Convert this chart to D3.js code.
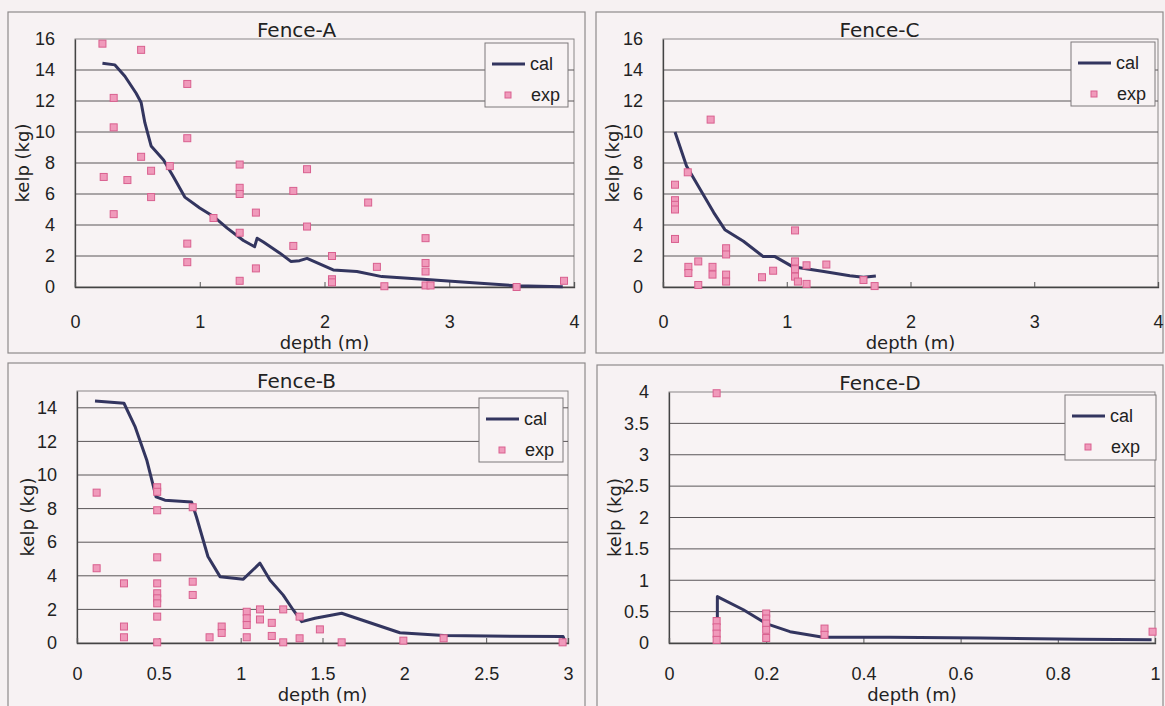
<!DOCTYPE html>
<meta charset="utf-8">
<style>
body { margin: 0; background: #f6f1f2; }
.tick text { font-family: "Liberation Sans", Arial, sans-serif; font-size: 18px; fill: #222; }
.ttl { font-family: "DejaVu Sans", sans-serif; font-size: 20px; fill: #222; }
.axt { font-family: "DejaVu Sans", sans-serif; font-size: 18px; fill: #222; }
.leg { font-family: "Liberation Sans", Arial, sans-serif; font-size: 18px; fill: #222; }
</style>
<svg id="chart" width="1165" height="706"></svg>
<script src="https://d3js.org/d3.v7.min.js"></script>
<script>

// cal = calculated curve, exp = measured points  [depth (m), kelp (kg)]
var calA = [[0.22,14.44],[0.32,14.33],[0.40,13.6],[0.49,12.5],[0.53,11.9],[0.56,10.6],[0.59,9.7],[0.61,9.1],[0.71,8.2],[0.79,7.1],[0.88,5.8],[1.0,5.1],[1.11,4.55],[1.22,3.8],[1.35,3.0],[1.44,2.6],[1.46,3.15],[1.51,2.9],[1.64,2.2],[1.73,1.65],[1.80,1.7],[1.86,1.85],[2.07,1.1],[2.26,1.0],[2.46,0.67],[2.79,0.5],[3.19,0.28],[3.54,0.08],[3.91,0.02]];
var expA = [[0.22,15.7],[0.53,15.3],[0.31,12.2],[0.90,13.1],[0.31,10.3],[0.90,9.6],[0.53,8.4],[0.61,7.5],[0.76,7.8],[0.23,7.1],[0.42,6.9],[0.61,5.8],[0.31,4.7],[1.11,4.45],[1.32,7.9],[1.32,6.4],[1.32,6.0],[1.45,4.8],[1.32,3.5],[0.90,2.8],[0.90,1.6],[1.45,1.2],[1.32,0.4],[1.75,6.2],[1.75,2.65],[1.86,7.6],[1.86,3.9],[2.06,2.0],[2.06,0.5],[2.06,0.3],[2.35,5.45],[2.42,1.3],[2.48,0.05],[2.81,3.15],[2.81,1.55],[2.81,1.0],[2.81,0.1],[2.85,0.1],[3.54,0.0],[3.92,0.4]];

var calC = [[0.097,10.0],[0.19,7.8],[0.30,6.3],[0.41,4.8],[0.50,3.7],[0.65,2.95],[0.81,1.96],[0.905,1.96],[1.05,1.3],[1.30,1.0],[1.51,0.73],[1.62,0.63],[1.72,0.71]];
var expC = [[0.385,10.8],[0.20,7.4],[0.097,6.6],[0.097,5.6],[0.097,5.3],[0.097,5.0],[0.097,3.1],[1.067,3.65],[0.205,1.3],[0.205,0.9],[0.285,1.65],[0.285,0.13],[0.40,1.3],[0.40,0.8],[0.51,2.5],[0.51,2.1],[0.51,0.8],[0.51,0.35],[0.80,0.63],[0.89,1.05],[1.067,1.65],[1.067,1.15],[1.067,0.67],[1.09,0.35],[1.16,1.4],[1.16,0.2],[1.32,1.45],[1.62,0.45],[1.71,0.06]];

var calB = [[0.11,14.4],[0.287,14.27],[0.354,12.9],[0.426,10.9],[0.483,8.7],[0.537,8.5],[0.70,8.4],[0.73,7.5],[0.80,5.15],[0.874,3.95],[1.016,3.8],[1.118,4.75],[1.179,3.75],[1.26,2.85],[1.32,1.98],[1.373,1.27],[1.454,1.47],[1.617,1.77],[1.973,0.61],[2.24,0.44],[2.97,0.38],[2.98,0.15]];
var expB = [[0.12,8.95],[0.12,4.45],[0.287,3.55],[0.287,0.98],[0.287,0.34],[0.49,9.27],[0.49,9.0],[0.49,7.9],[0.49,5.1],[0.49,3.55],[0.49,2.96],[0.49,2.66],[0.49,2.36],[0.49,1.57],[0.49,0.04],[0.707,8.08],[0.707,3.65],[0.707,2.86],[0.81,0.34],[0.884,0.98],[0.884,0.6],[1.037,1.86],[1.037,1.47],[1.037,1.07],[1.037,0.34],[1.118,2.0],[1.118,1.4],[1.19,1.2],[1.19,0.42],[1.26,0.04],[1.26,2.0],[1.36,1.57],[1.36,0.28],[1.484,0.81],[1.617,0.04],[1.994,0.14],[2.24,0.28],[2.967,0.04]];

var calD = [[0.0995,0.39],[0.0995,0.74],[0.153,0.53],[0.20,0.31],[0.249,0.18],[0.317,0.09],[0.455,0.09],[0.64,0.08],[0.846,0.06],[0.993,0.05]];
var expD = [[0.098,3.98],[0.098,0.35],[0.098,0.25],[0.098,0.15],[0.098,0.05],[0.20,0.47],[0.20,0.39],[0.20,0.31],[0.20,0.21],[0.20,0.08],[0.32,0.23],[0.32,0.13],[0.995,0.18]];

var titles = ["Fence-A", "Fence-C", "Fence-B", "Fence-D"];
var xTicksAC = [0,1,2,3,4];
var xTicksB = [0,0.5,1,1.5,2,2.5,3];
var xTicksD = [0,0.2,0.4,0.6,0.8,1];
var yTicksAC = [0,2,4,6,8,10,12,14,16];
var yTicksB = [0,2,4,6,8,10,12,14];
var yTicksD = [0,0.5,1,1.5,2,2.5,3,3.5,4];
var legendLabels = ["cal", "exp"];

var svg = d3.select("#chart");

// layout of each panel (box = chart area, plot = plot area)
var panels = [
  {title: titles[0], cal: calA, exp: expA, box: [8,12,585,353],   plot: [75,39,574,287],   xMax: 4, yMax: 16, xt: xTicksAC, yt: yTicksAC, ylabX: 23,  tickDy: 35, xlabDy: 56, leg: [485,43,568,107]},
  {title: titles[1], cal: calC, exp: expC, box: [596,12,1163,353], plot: [663,39,1158,287], xMax: 4, yMax: 16, xt: xTicksAC, yt: yTicksAC, ylabX: 613, tickDy: 35, xlabDy: 56, leg: [1071,42,1155,106]},
  {title: titles[2], cal: calB, exp: expB, box: [8,363,585,712],  plot: [77,391,568,643],  xMax: 3, yMax: 15, xt: xTicksB,  yt: yTicksB,  ylabX: 28,  tickDy: 31, xlabDy: 52, leg: [479,398,563,462]},
  {title: titles[3], cal: calD, exp: expD, box: [597,365,1163,712], plot: [669,392,1155,643], xMax: 1, yMax: 4, xt: xTicksD, yt: yTicksD, ylabX: 615, tickDy: 31, xlabDy: 52, leg: [1065,395,1156,460]}
];

panels.forEach(function(p) {
  var g = svg.append("g");
  var x = d3.scaleLinear().domain([0, p.xMax]).range([p.plot[0], p.plot[2]]);
  var y = d3.scaleLinear().domain([0, p.yMax]).range([p.plot[3], p.plot[1]]);

  // chart area box
  g.append("rect")
    .attr("x", p.box[0]).attr("y", p.box[1])
    .attr("width", p.box[2]-p.box[0]).attr("height", p.box[3]-p.box[1])
    .attr("fill", "#f7f2f3")
    .attr("stroke", "#8e8a8b")
    .attr("stroke-width", 1.2);

  // plot area
  g.append("rect")
    .attr("x", p.plot[0]).attr("y", p.plot[1])
    .attr("width", p.plot[2]-p.plot[0]).attr("height", p.plot[3]-p.plot[1])
    .attr("fill", "#f8f3f4")
    .attr("stroke", "#8a8687")
    .attr("stroke-width", 1);

  // gridlines
  g.selectAll(".grid")
    .data(p.yt.filter(function(d){ return d > 0 && d < p.yMax; }))
    .enter().append("line")
    .attr("x1", p.plot[0]).attr("x2", p.plot[2])
    .attr("y1", function(d){ return y(d); })
    .attr("y2", function(d){ return y(d); })
    .attr("stroke", "#5a5658")
    .attr("stroke-width", 1);

  // axes
  var yAxis = g.append("g")
    .attr("transform", "translate(" + p.plot[0] + ",0)")
    .call(d3.axisLeft(y).tickValues(p.yt).tickSize(0).tickPadding(20).tickFormat(d3.format("")));
  yAxis.select(".domain").attr("stroke", "#444").attr("stroke-width", 1.3);

  var xAxis = g.append("g")
    .attr("transform", "translate(0," + p.plot[3] + ")")
    .call(d3.axisBottom(x).tickValues(p.xt).tickSize(-5).tickPadding(0).tickFormat(d3.format("")));
  xAxis.select(".domain").attr("stroke", "#444").attr("stroke-width", 1.3);
  xAxis.selectAll(".tick line").attr("stroke", "#555");
  xAxis.selectAll(".tick text").attr("y", p.tickDy).attr("dy", "0.35em");

  // titles
  g.append("text")
    .attr("class", "ttl")
    .attr("x", (p.box[0]+p.box[2])/2)
    .attr("y", p.box[1]+18)
    .attr("text-anchor", "middle")
    .attr("dy", "0.35em")
    .text(p.title);
  g.append("text")
    .attr("class", "axt")
    .attr("x", (p.plot[0]+p.plot[2])/2)
    .attr("y", p.plot[3]+p.xlabDy)
    .attr("text-anchor", "middle")
    .attr("dy", "0.35em")
    .text("depth (m)");
  g.append("text")
    .attr("class", "axt")
    .attr("transform", "translate(" + p.ylabX + "," + ((p.plot[1]+p.plot[3])/2) + ") rotate(-90)")
    .attr("text-anchor", "middle")
    .attr("dy", "0.35em")
    .text("kelp (kg)");

  // cal line
  var line = d3.line()
    .x(function(d){ return x(d[0]); })
    .y(function(d){ return y(d[1]); });
  g.append("path")
    .datum(p.cal)
    .attr("d", line)
    .attr("fill", "none")
    .attr("stroke", "#33355f")
    .attr("stroke-width", 3)
    .attr("stroke-linejoin", "round");

  // exp markers
  g.selectAll(".exp")
    .data(p.exp)
    .enter().append("rect")
    .attr("class", "exp")
    .attr("x", function(d){ return x(d[0]) - 3.5; })
    .attr("y", function(d){ return y(d[1]) - 3.5; })
    .attr("width", 7).attr("height", 7)
    .attr("fill", "#f09abb")
    .attr("stroke", "#d9608f")
    .attr("stroke-width", 1);

  // legend
  var L = p.leg;
  g.append("rect")
    .attr("x", L[0]).attr("y", L[1])
    .attr("width", L[2]-L[0]).attr("height", L[3]-L[1])
    .attr("fill", "#f8f3f4")
    .attr("stroke", "#7d797a")
    .attr("stroke-width", 1);
  var rowY = [L[1] + 21, L[1] + 52];
  g.append("line")
    .attr("x1", L[0]+7).attr("x2", L[0]+40)
    .attr("y1", rowY[0]).attr("y2", rowY[0])
    .attr("stroke", "#33355f")
    .attr("stroke-width", 3);
  g.append("rect")
    .attr("x", L[0]+20).attr("y", rowY[1]-3)
    .attr("width", 6).attr("height", 6)
    .attr("fill", "#f09abb")
    .attr("stroke", "#d9608f");
  g.selectAll(".legtxt")
    .data(legendLabels)
    .enter().append("text")
    .attr("class", "leg")
    .attr("x", function(d, i){ return L[0] + (i === 0 ? 45 : 46); })
    .attr("y", function(d, i){ return rowY[i]; })
    .attr("dy", "0.35em")
    .text(function(d){ return d; });
});

</script>
